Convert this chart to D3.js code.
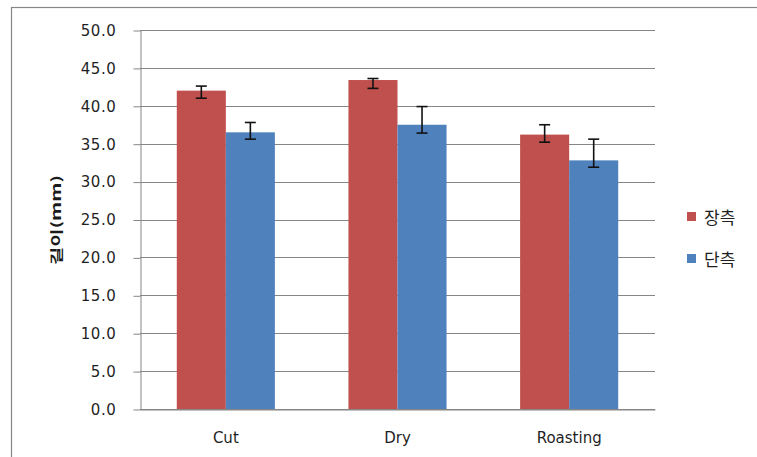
<!DOCTYPE html>
<html>
<head>
<meta charset="utf-8">
<script src="https://cdn.jsdelivr.net/npm/d3@7"></script>
<style>
  html, body { margin: 0; padding: 0; background: #fff; }
  svg { display: block; }
</style>
</head>
<body>
<svg id="chart" width="757" height="457"></svg>
<script>
// Processing stages on the x axis
const categories = ["Cut", "Dry", "Roasting"];
// Series names (long axis / short axis)
const seriesNames = ["장측", "단측"];
// Mean length (mm) per stage
const longAxis = [42.0, 43.4, 36.2];
const shortAxis = [36.5, 37.5, 32.8];
// Error bar upper and lower ends (mm)
const longHigh = [42.6, 43.6, 37.5];
const longLow = [41.0, 42.3, 35.2];
const shortHigh = [37.8, 39.9, 35.6];
const shortLow = [35.6, 36.4, 31.9];
// Value axis ticks
const yTicks = [0, 5, 10, 15, 20, 25, 30, 35, 40, 45, 50];
const yTitle = "길이(mm)";

const colors = ["#C0504D", "#4F81BD"];
const gridColor = "#868686";

const svg = d3.select("#chart");

// outer chart frame (runs off the right and bottom edges)
svg.append("rect")
  .attr("x", 11.5).attr("y", 7.5)
  .attr("width", 800).attr("height", 500)
  .attr("fill", "#fff")
  .attr("stroke", gridColor).attr("stroke-width", 1.2);

const plot = { left: 140, right: 655, top: 30, bottom: 409 };

const x0 = d3.scaleBand().domain(categories).range([plot.left, plot.right]);
const gapWidth = 1.5; // gap between groups relative to one bar
const groupW = x0.bandwidth() * 2 / (2 + gapWidth);
const x1 = d3.scaleBand().domain(seriesNames)
  .range([(x0.bandwidth() - groupW) / 2, (x0.bandwidth() + groupW) / 2]);
const y = d3.scaleLinear().domain([0, 50]).range([plot.bottom, plot.top]);

// horizontal gridlines
svg.append("g")
  .selectAll("line")
  .data(yTicks)
  .join("line")
  .attr("x1", plot.left).attr("x2", plot.right)
  .attr("y1", d => Math.round(y(d)) + 0.5).attr("y2", d => Math.round(y(d)) + 0.5)
  .attr("stroke", gridColor).attr("stroke-width", 1);

// value axis with outward tick marks
const yAxis = svg.append("g")
  .attr("transform", `translate(${plot.left + 0.5},0.5)`)
  .call(d3.axisLeft(y).tickValues(yTicks).tickFormat(d3.format(".1f"))
    .tickSizeInner(7).tickSizeOuter(0).tickPadding(17));
yAxis.select(".domain").attr("stroke", gridColor);
yAxis.selectAll(".tick line").attr("stroke", gridColor);
yAxis.selectAll(".tick text")
  .attr("fill", "#1f1f1f")
  .style("font-family", "'DejaVu Sans', Verdana, sans-serif")
  .style("font-size", "15px")
  .attr("letter-spacing", "0.6");

// category axis
const xAxis = svg.append("g")
  .attr("transform", `translate(0,${Math.round(plot.bottom) + 0.5})`)
  .call(d3.axisBottom(x0).tickSize(0).tickPadding(23));
xAxis.select(".domain").attr("stroke", gridColor);
xAxis.selectAll(".tick text")
  .attr("fill", "#1f1f1f")
  .style("font-family", "'DejaVu Sans', Verdana, sans-serif")
  .style("font-size", "15px");

// bars
const rows = categories.map((c, i) => ({
  cat: c,
  vals: [
    { s: seriesNames[0], v: longAxis[i], hi: longHigh[i], lo: longLow[i], color: colors[0] },
    { s: seriesNames[1], v: shortAxis[i], hi: shortHigh[i], lo: shortLow[i], color: colors[1] }
  ]
}));

const groups = svg.append("g")
  .selectAll("g")
  .data(rows)
  .join("g")
  .attr("transform", d => `translate(${x0(d.cat)},0)`);

groups.selectAll("rect")
  .data(d => d.vals)
  .join("rect")
  .attr("x", d => x1(d.s))
  .attr("width", x1.bandwidth())
  .attr("y", d => y(d.v))
  .attr("height", d => y(0) - y(d.v))
  .attr("fill", d => d.color);

// error bars
const capHalf = 5.5;
const err = groups.selectAll("g.err")
  .data(d => d.vals)
  .join("g")
  .attr("class", "err")
  .attr("stroke", "#111")
  .attr("stroke-width", 1.6);
err.append("line")
  .attr("x1", d => x1(d.s) + x1.bandwidth() / 2)
  .attr("x2", d => x1(d.s) + x1.bandwidth() / 2)
  .attr("y1", d => y(d.hi)).attr("y2", d => y(d.lo));
err.append("line")
  .attr("x1", d => x1(d.s) + x1.bandwidth() / 2 - capHalf)
  .attr("x2", d => x1(d.s) + x1.bandwidth() / 2 + capHalf)
  .attr("y1", d => y(d.hi)).attr("y2", d => y(d.hi));
err.append("line")
  .attr("x1", d => x1(d.s) + x1.bandwidth() / 2 - capHalf)
  .attr("x2", d => x1(d.s) + x1.bandwidth() / 2 + capHalf)
  .attr("y1", d => y(d.lo)).attr("y2", d => y(d.lo));

// axis title
svg.append("text")
  .attr("transform", "translate(55,220) rotate(-90)")
  .attr("text-anchor", "middle")
  .attr("dominant-baseline", "central")
  .attr("textLength", 90)
  .attr("lengthAdjust", "spacingAndGlyphs")
  .attr("fill", "#1a1a1a")
  .style("font-family", "'Noto Sans CJK KR', sans-serif")
  .style("font-weight", "bold")
  .style("font-size", "13px")
  .text(yTitle);

// legend
const legend = svg.append("g")
  .selectAll("g")
  .data(seriesNames)
  .join("g")
  .attr("transform", (d, i) => `translate(687,${216.5 + i * 42})`);
legend.append("rect")
  .attr("x", 0).attr("y", -4.5)
  .attr("width", 9).attr("height", 9)
  .attr("fill", (d, i) => colors[i]);
legend.append("text")
  .attr("x", 17).attr("y", 0)
  .attr("dominant-baseline", "central")
  .attr("fill", "#1f1f1f")
  .style("font-family", "'Noto Sans CJK KR', sans-serif")
  .style("font-size", "17px")
  .text(d => d);
</script>
</body>
</html>
